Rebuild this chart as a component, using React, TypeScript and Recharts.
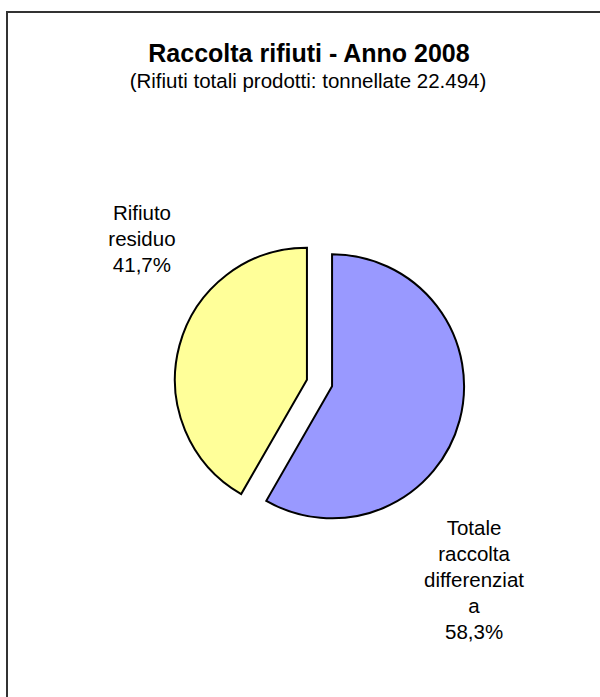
import React from 'react';
import { PieChart, Pie, Cell } from 'recharts';

// chart data
const categories = ['Totale raccolta differenziata', 'Rifiuto residuo'];
const shares = [58.3, 41.7];
const labelLines = [['Totale', 'raccolta', 'differenziat', 'a'], ['Rifiuto', 'residuo']];
const sliceColors = ['#9999FF', '#FFFF99'];

const TITLE = 'Raccolta rifiuti - Anno 2008';
const SUBTITLE = '(Rifiuti totali prodotti: tonnellate 22.494)';

const FONT = '"Liberation Sans", Arial, Helvetica, sans-serif';
const W = 600;
const H = 697;

// pie geometry
const CX = 319.5;
const CY = 383;
const R = 132;
const EXPLODE = 13;
const START = 90;
const END = -270;
const LINE = 26;
const labelOffsets = [
  { dx: 142, dy: 149 },
  { dx: -165, dy: -160 },
];

const data = categories.map((name, i) => ({ name, value: shares[i] }));

// each slice is pushed out along its own mid angle
const total = shares.reduce((a, b) => a + b, 0);
let acc = 0;
const midAngles = shares.map((v) => {
  const m = START - ((acc + v / 2) / total) * 360;
  acc += v;
  return m;
});
const centers = midAngles.map((a) => ({
  x: CX + EXPLODE * Math.cos((a * Math.PI) / 180),
  y: CY - EXPLODE * Math.sin((a * Math.PI) / 180),
}));

const pct = (v: number) => v.toFixed(1).replace('.', ',') + '%';

const renderLabel = (visible: number) => (props: any) => {
  if (props.index !== visible) return null;
  const c = centers[visible];
  const off = labelOffsets[visible];
  const lines = [...labelLines[visible], pct(shares[visible])];
  const x = c.x + off.dx;
  return (
    <text
      key={`lbl-${visible}`}
      x={x}
      y={c.y + off.dy}
      textAnchor="middle"
      fontSize={20.5}
      fontFamily={FONT}
      fill="#000"
    >
      {lines.map((l, i) => (
        <tspan key={i} x={x} y={c.y + off.dy + i * LINE}>
          {l}
        </tspan>
      ))}
    </text>
  );
};

export default function App() {
  return (
    <div
      style={{
        position: 'absolute',
        top: 0,
        left: 0,
        width: W,
        height: H,
        overflow: 'hidden',
        background: '#fff',
        fontFamily: FONT,
      }}
    >
      {/* frame runs off the right and bottom edges */}
      <div
        style={{
          position: 'absolute',
          top: 11,
          left: 6,
          width: 700,
          height: 800,
          border: '2px solid #333',
        }}
      />
      <div
        style={{
          position: 'absolute',
          top: 40.5,
          left: 9,
          width: W,
          textAlign: 'center',
          fontSize: 25,
          lineHeight: '25px',
          fontWeight: 'bold',
          color: '#000',
          whiteSpace: 'nowrap',
        }}
      >
        {TITLE}
      </div>
      <div
        style={{
          position: 'absolute',
          top: 70.6,
          left: 8,
          width: W,
          textAlign: 'center',
          fontSize: 20.5,
          lineHeight: '20.5px',
          color: '#000',
          whiteSpace: 'nowrap',
        }}
      >
        {SUBTITLE}
      </div>
      <div style={{ position: 'absolute', top: 0, left: 0 }}>
        <PieChart width={W} height={H} margin={{ top: 0, right: 0, bottom: 0, left: 0 }}>
          {centers.map((c, p) => (
            <Pie
              key={`pie-${p}`}
              data={data}
              dataKey="value"
              nameKey="name"
              cx={c.x}
              cy={c.y}
              outerRadius={R}
              startAngle={START}
              endAngle={END}
              isAnimationActive={false}
              labelLine={false}
              label={renderLabel(p)}
            >
              {data.map((d, i) => (
                <Cell
                  key={d.name}
                  fill={i === p ? sliceColors[i] : 'none'}
                  stroke={i === p ? '#000' : 'none'}
                  strokeWidth={2}
                />
              ))}
            </Pie>
          ))}
        </PieChart>
      </div>
    </div>
  );
}
